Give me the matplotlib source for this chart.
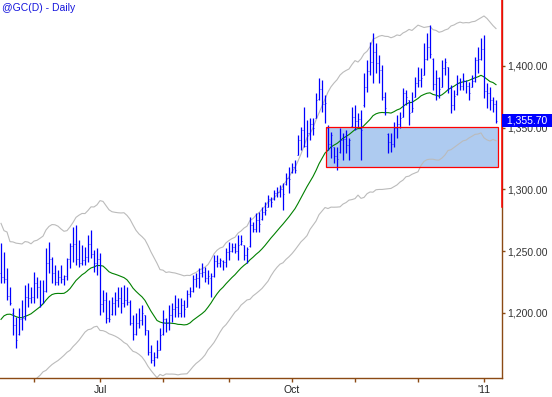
import numpy as np
import pandas as pd
import matplotlib
matplotlib.use("Agg")
import matplotlib.pyplot as plt
from matplotlib.patches import Rectangle
from matplotlib.transforms import blended_transform_factory

plt.rcParams['font.family'] = ['Liberation Sans', 'DejaVu Sans']

# ---- Data: @GC daily bars, 14 May 2010 - 7 Jan 2011 ----
holidays = ['2010-05-31', '2010-07-05', '2010-09-06', '2010-11-25', '2010-12-24']
dates = pd.bdate_range('2010-05-14', '2011-01-07')
dates = dates[~dates.isin(pd.to_datetime(holidays))]

highs = [
    1256.6, 1249.3, 1236.3, 1220.9, 1203.9, 1196.6, 1203.9, 1210.4, 1222.6, 1224.2,
    1220.9, 1233.1, 1229.0, 1226.6, 1226.6, 1252.5, 1257.4, 1245.2, 1238.8, 1234.7,
    1238.8, 1230.7, 1244.4, 1256.6, 1269.5, 1271.2, 1259.0, 1255.0, 1253.3, 1263.1,
    1267.1, 1250.9, 1252.5, 1248.5, 1218.5, 1216.9, 1210.4, 1212.8, 1216.9, 1220.9,
    1220.9, 1222.6, 1220.9, 1210.4, 1198.3, 1199.9, 1203.9, 1206.4, 1198.3, 1186.1,
    1174.0, 1168.3, 1178.0, 1187.7, 1202.3, 1195.8, 1206.4, 1208.0, 1214.4, 1212.0,
    1212.0, 1210.4, 1218.5, 1220.9, 1230.7, 1232.3, 1236.3, 1240.4, 1237.1, 1234.7,
    1232.3, 1246.9, 1246.9, 1244.4, 1242.8, 1252.5, 1257.4, 1256.6, 1256.6, 1263.1,
    1263.1, 1255.0, 1253.3, 1277.6, 1273.6, 1280.9, 1281.7, 1285.7, 1289.8, 1295.5,
    1293.8, 1299.5, 1301.9, 1303.6, 1305.2, 1313.3, 1318.1, 1321.4, 1323.8, 1344.1,
    1350.5, 1366.7, 1356.2, 1357.8, 1357.8, 1378.1, 1390.2, 1388.6, 1376.4, 1352.2,
    1346.5, 1334.3, 1334.3, 1349.7, 1345.7, 1348.1, 1341.6, 1366.7, 1368.4, 1361.9,
    1364.3, 1394.3, 1404.8, 1419.4, 1426.7, 1418.6, 1408.9, 1400.8, 1378.9, 1345.7,
    1345.7, 1354.6, 1360.2, 1362.7, 1382.1, 1380.5, 1372.4, 1378.9, 1391.0, 1399.1,
    1398.3, 1418.6, 1426.7, 1433.2, 1406.4, 1396.7, 1391.0, 1404.8, 1406.4, 1399.1,
    1384.6, 1380.5, 1392.7, 1390.2, 1394.3, 1388.6, 1387.0, 1392.7, 1407.2, 1415.3,
    1422.6, 1425.1, 1386.2, 1382.9, 1374.8, 1372.4,
]
lows = [
    1224.2, 1224.2, 1210.4, 1206.4, 1182.1, 1171.5, 1182.1, 1186.1, 1194.2, 1204.7,
    1208.0, 1208.0, 1212.0, 1204.7, 1208.0, 1216.9, 1232.3, 1224.2, 1222.6, 1222.6,
    1224.2, 1222.6, 1226.6, 1236.3, 1241.2, 1238.8, 1237.1, 1238.8, 1238.8, 1241.2,
    1244.4, 1233.1, 1230.7, 1198.3, 1200.7, 1191.8, 1192.6, 1198.3, 1198.3, 1204.7,
    1199.9, 1204.7, 1206.4, 1190.2, 1178.0, 1182.1, 1187.7, 1190.2, 1182.1, 1165.9,
    1159.4, 1157.0, 1163.4, 1169.9, 1182.1, 1184.5, 1186.1, 1192.6, 1196.6, 1196.6,
    1196.6, 1196.6, 1204.7, 1212.8, 1216.9, 1220.9, 1220.1, 1229.0, 1225.0, 1223.4,
    1212.8, 1229.0, 1237.1, 1237.1, 1234.7, 1237.1, 1242.8, 1249.3, 1248.5, 1242.8,
    1255.0, 1242.8, 1240.4, 1253.3, 1265.5, 1265.5, 1265.5, 1275.2, 1279.2, 1285.7,
    1285.7, 1291.4, 1293.8, 1293.8, 1283.3, 1303.6, 1297.1, 1313.3, 1313.3, 1327.9,
    1331.9, 1334.3, 1326.2, 1340.0, 1344.1, 1357.8, 1372.4, 1362.7, 1353.8, 1331.9,
    1325.4, 1321.4, 1315.7, 1329.5, 1323.8, 1329.5, 1323.8, 1350.5, 1348.1, 1350.5,
    1323.8, 1366.7, 1378.9, 1392.7, 1386.2, 1394.3, 1386.2, 1372.4, 1360.2, 1329.5,
    1330.3, 1334.3, 1341.6, 1349.7, 1358.6, 1368.4, 1352.2, 1362.7, 1374.8, 1382.9,
    1382.9, 1392.7, 1404.8, 1406.4, 1380.5, 1372.4, 1374.0, 1382.9, 1392.7, 1378.1,
    1361.9, 1364.3, 1376.4, 1380.5, 1380.5, 1378.1, 1372.4, 1382.9, 1387.0, 1394.3,
    1404.8, 1374.0, 1365.9, 1364.3, 1362.7, 1353.8,
]
closes = [
    1229, 1227, 1214, 1208, 1190, 1178, 1195, 1196, 1213, 1212,
    1213, 1224, 1221, 1207, 1218, 1240, 1244, 1232, 1225, 1229,
    1227, 1230, 1244, 1254, 1256, 1244, 1240, 1243, 1245, 1256,
    1248, 1240, 1244, 1207, 1210, 1196, 1195, 1208, 1210, 1212,
    1208, 1210, 1209, 1192, 1183, 1192, 1194, 1200, 1186, 1168,
    1162, 1164, 1170, 1182, 1195, 1192, 1198, 1203, 1205, 1200,
    1206, 1203, 1215, 1218, 1227, 1228, 1232, 1233, 1228, 1230,
    1230, 1242, 1240, 1243, 1241, 1249, 1250, 1253, 1250, 1255,
    1258, 1247, 1252, 1271, 1268, 1275, 1272, 1282, 1283, 1292,
    1290, 1297, 1298, 1300, 1296, 1309, 1308, 1318, 1316, 1340,
    1348, 1335, 1346, 1353, 1350, 1372, 1381, 1369, 1370, 1337,
    1344, 1327, 1325, 1340, 1341, 1336, 1340, 1359, 1355, 1357,
    1348, 1383, 1396, 1403, 1411, 1402, 1397, 1375, 1366, 1338,
    1337, 1350, 1353, 1358, 1378, 1375, 1362, 1366, 1386, 1389,
    1390, 1406, 1415, 1410, 1385, 1390, 1381, 1398, 1403, 1382,
    1368, 1376, 1386, 1384, 1389, 1384, 1378, 1388, 1405, 1406,
    1414, 1380, 1378, 1372, 1369, 1355.7,
]
opens = [
    1232, 1229, 1227, 1214, 1200, 1190, 1183, 1195, 1196, 1213,
    1212, 1213, 1224, 1221, 1208, 1218, 1240, 1244, 1232, 1225,
    1229, 1227, 1230, 1244, 1254, 1256, 1244, 1240, 1243, 1245,
    1256, 1248, 1240, 1244, 1207, 1210, 1196, 1199, 1208, 1210,
    1212, 1208, 1210, 1209, 1192, 1183, 1192, 1194, 1198, 1186,
    1168, 1162, 1164, 1170, 1183, 1195, 1192, 1198, 1203, 1205,
    1200, 1206, 1205, 1215, 1218, 1227, 1228, 1232, 1233, 1228,
    1228, 1230, 1242, 1240, 1242, 1241, 1249, 1250, 1253, 1250,
    1256, 1255, 1247, 1254, 1271, 1268, 1275, 1276, 1282, 1286,
    1292, 1292, 1297, 1298, 1300, 1304, 1309, 1314, 1318, 1328,
    1340, 1348, 1335, 1346, 1353, 1358, 1373, 1381, 1369, 1350,
    1337, 1334, 1327, 1330, 1340, 1341, 1336, 1351, 1359, 1355,
    1357, 1368, 1383, 1396, 1403, 1411, 1402, 1397, 1375, 1345,
    1338, 1337, 1350, 1353, 1359, 1378, 1372, 1363, 1375, 1386,
    1389, 1393, 1406, 1415, 1406, 1385, 1390, 1383, 1398, 1399,
    1382, 1368, 1377, 1386, 1384, 1388, 1384, 1383, 1388, 1405,
    1406, 1414, 1380, 1378, 1372, 1369,
]
# closes before the first bar (estimated, only feed the 20-day average)
prior_closes = [1170, 1190, 1205, 1208, 1200, 1210, 1198, 1193, 1192, 1190,
                1186, 1183, 1170, 1172, 1178, 1190, 1195, 1210, 1225]

# shaded support zone
zone_start, zone_end = 108.3, 165.7
zone_low, zone_high = 1318.2, 1350.6

# ---- Indicators: 20-day average with ATR channel ----
n = len(closes)
allc = pd.Series(prior_closes + closes, dtype=float)
ma = allc.rolling(20).mean().to_numpy()[-n:]
h = np.array(highs); l = np.array(lows)
prevc = allc.shift(1).to_numpy()[-n:]
tr = np.maximum(h - l, np.maximum(abs(h - prevc), abs(l - prevc)))
atr = pd.Series(tr).rolling(20, min_periods=1).mean().to_numpy()
upper = ma + 2.4 * atr
lower = ma - 2.4 * atr

x = np.arange(n)

# ---- Plot ----
fig = plt.figure(figsize=(5.52, 3.97), dpi=100)
ax = fig.add_axes([0, 1 - 378 / 397, 502 / 552, 378 / 397])

blue = '#0000ff'
brown = '#8b4a14'

ax.add_patch(Rectangle((zone_start, zone_low), zone_end - zone_start, zone_high - zone_low,
                       facecolor='#aecbf0', edgecolor='none', zorder=1))
ax.add_patch(Rectangle((zone_start, zone_low), zone_end - zone_start, zone_high - zone_low,
                       fill=False, edgecolor='red', lw=0.9, zorder=4))

ax.plot(x, upper, color='#bbbbbb', lw=0.8, zorder=2)
ax.plot(x, lower, color='#bbbbbb', lw=0.8, zorder=2)
ax.plot(x, ma, color='#008000', lw=0.8, zorder=2)

ax.vlines(x, lows, highs, color=blue, lw=0.9, zorder=3)
ax.hlines(opens, x - 0.4, x, color=blue, lw=0.5, zorder=3)
ax.hlines(closes, x, x + 0.4, color=blue, lw=0.5, zorder=3)

ax.set_xlim(-1 / 3, 167)
ax.set_ylim(1147.2, 1453.4)

for s in ['left', 'top']:
    ax.spines[s].set_visible(False)
ax.spines['bottom'].set_color(brown)
ax.spines['right'].set_color(brown)
ax.spines['bottom'].set_linewidth(1)
ax.spines['right'].set_linewidth(1)
# red upper part of the price scale
red_from = 1285.5
ax.plot([167, 167], [red_from, 1453.4], color='red', lw=1.1, clip_on=False, zorder=5)

# x ticks at the first trading day of each month
month_start = [i for i in range(1, n) if dates[i].month != dates[i - 1].month]
labels = []
for i in month_start:
    d = dates[i]
    if d.month == 1:
        labels.append("'" + d.strftime('%y'))
    elif d.month in (7, 10):
        labels.append(d.strftime('%b'))
    else:
        labels.append('')
ax.set_xticks(month_start)
ax.set_xticklabels(labels)
ax.tick_params(axis='x', direction='out', length=3, width=1, color=brown,
               labelsize=7.5, labelcolor='#222222', pad=2)

ax.yaxis.tick_right()
yt = [1200, 1250, 1300, 1350, 1400]
ax.set_yticks(yt)
ax.set_yticklabels([f'{v:,.2f}' for v in yt])
ax.tick_params(axis='y', direction='out', length=2.5, width=1, color=brown,
               labelsize=7.5, labelcolor='#333333', pad=1.5)
for t, v in zip(ax.yaxis.get_major_ticks(), yt):
    if v > red_from:
        t.tick2line.set_color('red')

# last price label (sits over the 1,350.00 tick label, as on the original)
tr_lbl = blended_transform_factory(ax.transAxes, ax.transData)
ax.text(1.003, closes[-1], f' {closes[-1]:,.2f}  ', transform=tr_lbl, ha='left', va='center',
        fontsize=7.5, color='white', zorder=10, clip_on=False,
        bbox=dict(boxstyle='square,pad=0.12', facecolor=blue, edgecolor='none'))

fig.text(0.004, 1 - 8 / 397, '@GC(D) - Daily', color='#1515dd', fontsize=7.5,
         ha='left', va='center')

fig.savefig('out.png', dpi=100)
